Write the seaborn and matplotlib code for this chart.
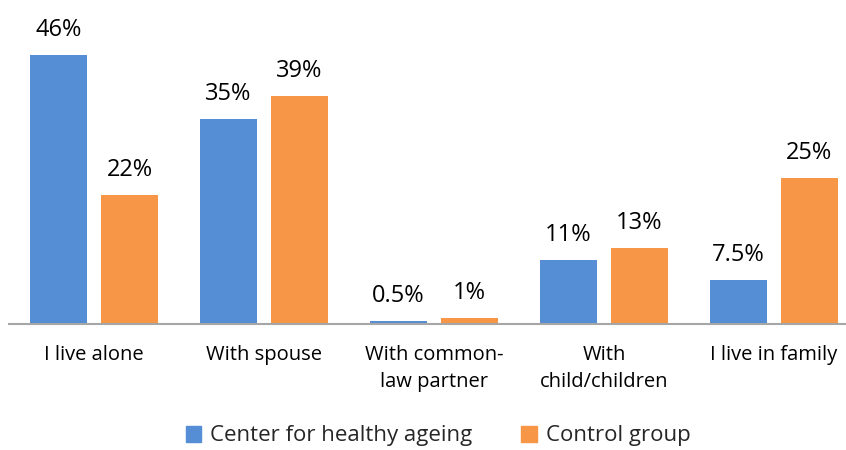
import matplotlib
matplotlib.use("Agg")
import matplotlib.pyplot as plt
import pandas as pd
import seaborn as sns

categories = [
    "I live alone",
    "With spouse",
    "With common-\nlaw partner",
    "With\nchild/children",
    "I live in family",
]
center_values = [46, 35, 0.5, 11, 7.5]
control_values = [22, 39, 1, 13, 25]
center_labels = ["46%", "35%", "0.5%", "11%", "7.5%"]
control_labels = ["22%", "39%", "1%", "13%", "25%"]
series = ["Center for healthy ageing", "Control group"]
colors = ["#558ED5", "#F79646"]

df = pd.DataFrame({
    "category": categories * 2,
    "value": center_values + control_values,
    "group": [series[0]] * len(categories) + [series[1]] * len(categories),
})

sns.set_theme(style="white")
plt.rcParams["font.family"] = ["Open Sans", "DejaVu Sans"]

fig = plt.figure(figsize=(8.46, 4.5), dpi=100)
ax = fig.add_axes([9 / 846, 126 / 450, 850 / 846, 292.5 / 450])

sns.barplot(
    data=df, x="category", y="value", hue="group", order=categories,
    hue_order=series, palette=colors, width=0.835, gap=0.2,
    saturation=1, linewidth=0, ax=ax, legend=False,
)

for container, labels in zip(ax.containers, [center_labels, control_labels]):
    for bar, text in zip(container, labels):
        ax.annotate(
            text, (bar.get_x() + bar.get_width() / 2, bar.get_height()),
            xytext=(0, 19), textcoords="offset pixels",
            ha="center", va="baseline", fontsize=17, color="#000000",
        )

ax.set_xlim(-0.5, 4.5)
ax.set_ylim(0, 50)
ax.set_xlabel("")
ax.set_ylabel("")
ax.set_yticks([])
ax.tick_params(axis="x", length=0, pad=15, labelsize=14.5, labelcolor="#000000")
for lab in ax.get_xticklabels():
    lab.set_linespacing(1.45)
sns.despine(ax=ax, left=True)
ax.spines["bottom"].set_color("#A6A6A6")
ax.spines["bottom"].set_linewidth(1.5)

handles = [plt.Rectangle((0, 0), 1, 1, color=c) for c in colors]
fig.legend(
    handles, series, loc="center", bbox_to_anchor=(438 / 846, 14 / 450),
    ncol=2, frameon=False, fontsize=16, handlelength=0.7, handleheight=0.7,
    handletextpad=0.4, columnspacing=2.2,
)

fig.savefig("out.png", dpi=100)
